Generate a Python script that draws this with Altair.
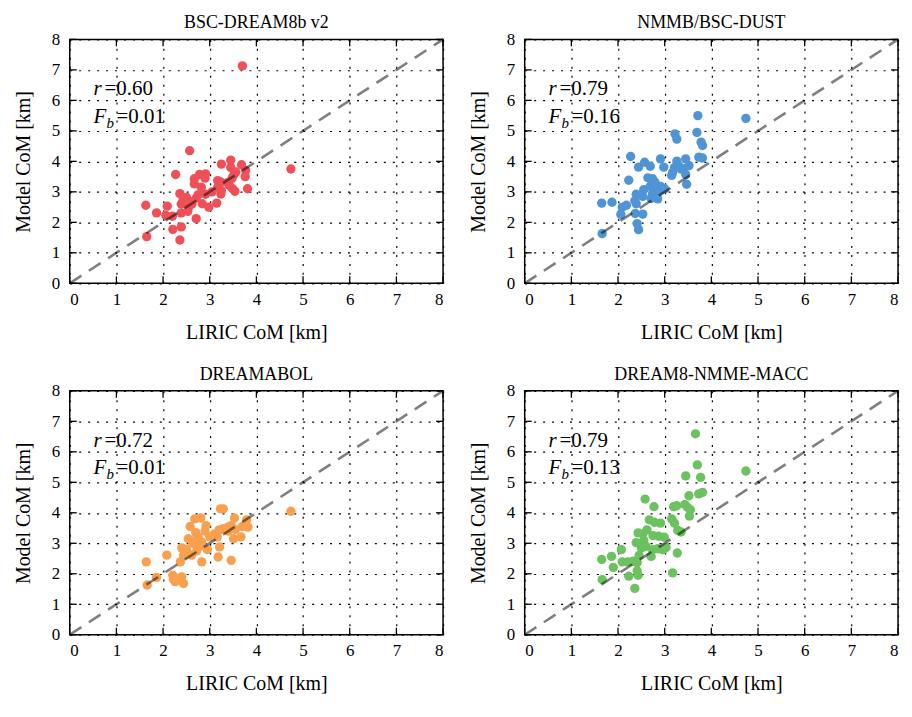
import altair as alt
import pandas as pd

titles = ["BSC-DREAM8b v2", "NMMB/BSC-DUST", "DREAMABOL", "DREAM8-NMME-MACC"]
colors = ["#ef5058", "#4f95d5", "#f9a04e", "#6cc160"]
r_vals = ["0.60", "0.79", "0.72", "0.79"]
fb_vals = ["0.01", "0.16", "0.01", "0.13"]
tick_vals = [0, 1, 2, 3, 4, 5, 6, 7, 8]
diag = [0, 8]

x1 = [3.70, 2.57, 4.74, 2.27, 3.25, 3.45, 3.45, 3.68, 3.77, 3.76, 3.52, 3.48, 2.67, 2.78, 2.91,
      2.67, 2.82, 2.91, 3.17, 3.24, 3.17, 3.25, 3.24, 3.42, 3.49, 3.54, 3.81, 3.15, 2.98, 2.84,
      2.71, 2.60, 2.36, 2.43, 2.50, 2.62, 2.39, 1.63, 1.86, 2.09, 2.06, 2.20, 2.39, 2.71, 2.39,
      2.21, 1.65, 2.36, 2.53, 2.90, 3.05, 2.75, 3.38, 3.56, 2.55]
y1 = [7.13, 4.35, 3.75, 3.57, 3.91, 4.04, 3.80, 3.89, 3.70, 3.50, 3.57, 3.45, 3.43, 3.57, 3.59,
      3.26, 3.15, 2.92, 3.37, 3.32, 3.15, 3.04, 2.93, 3.21, 3.10, 3.02, 3.10, 2.63, 2.50, 2.61,
      2.80, 2.68, 2.94, 2.73, 2.82, 2.60, 2.60, 2.56, 2.31, 2.53, 2.23, 2.20, 2.31, 2.12, 1.85,
      1.77, 1.53, 1.42, 2.36, 3.45, 3.00, 2.90, 3.30, 3.65, 2.50]

x2 = [4.74, 3.71, 3.69, 3.22, 3.26, 3.78, 3.81, 3.73, 3.81, 2.27, 2.57, 2.69, 2.44, 2.91, 2.98,
      3.26, 3.45, 3.52, 3.21, 3.35, 3.15, 3.17, 3.42, 3.45, 3.47, 2.23, 2.64, 2.74, 2.79, 2.69,
      2.78, 2.91, 2.91, 2.55, 2.39, 2.53, 2.74, 2.82, 2.71, 2.85, 2.39, 2.36, 2.18, 2.09, 1.65,
      1.87, 2.06, 2.37, 2.53, 2.41, 2.44, 1.66, 3.00, 3.30]
y2 = [5.41, 5.50, 4.95, 4.90, 4.73, 4.63, 4.52, 4.14, 4.11, 4.16, 3.97, 3.84, 3.81, 4.08, 3.81,
      4.01, 4.08, 3.86, 3.80, 3.75, 3.54, 3.64, 3.76, 3.57, 3.25, 3.38, 3.46, 3.43, 3.32, 3.18,
      3.16, 3.18, 3.05, 3.07, 2.92, 2.85, 2.94, 2.81, 2.78, 2.77, 2.61, 2.71, 2.56, 2.50, 2.63,
      2.66, 2.26, 2.29, 2.27, 1.96, 1.76, 1.63, 3.10, 3.85]

x3 = [4.74, 3.23, 3.29, 2.68, 2.81, 3.53, 3.79, 3.82, 2.58, 2.92, 3.20, 3.29, 3.39, 3.46, 3.40,
      3.55, 3.70, 3.16, 3.51, 3.67, 2.54, 2.68, 2.75, 2.83, 3.00, 2.95, 3.21, 2.40, 2.64, 2.80,
      2.70, 2.61, 2.83, 3.18, 3.46, 2.08, 2.37, 2.44, 2.50, 1.64, 1.86, 2.21, 2.26, 2.40, 2.44,
      2.22, 1.66, 2.90, 3.10, 2.72]
y3 = [4.05, 4.13, 4.13, 3.80, 3.83, 3.83, 3.77, 3.53, 3.55, 3.58, 3.44, 3.48, 3.53, 3.58, 3.40,
      3.45, 3.55, 3.21, 3.15, 3.21, 3.15, 3.09, 3.21, 3.04, 3.21, 2.79, 2.88, 2.85, 3.00, 2.90,
      3.35, 2.61, 2.39, 2.55, 2.44, 2.61, 2.39, 2.61, 2.80, 2.39, 1.88, 1.95, 1.74, 1.90, 1.68,
      1.82, 1.63, 3.40, 3.30, 2.75]

x4 = [3.66, 3.70, 4.74, 3.45, 3.77, 3.73, 3.81, 3.52, 2.58, 2.77, 3.19, 3.26, 3.43, 3.49, 3.55,
      3.53, 3.15, 3.21, 2.67, 2.78, 2.91, 3.28, 3.35, 2.43, 2.53, 2.62, 2.87, 2.99, 2.75, 2.39,
      2.55, 2.60, 2.74, 2.85, 2.96, 3.03, 2.71, 3.27, 2.07, 1.86, 1.65, 1.90, 2.09, 2.21, 2.32,
      2.41, 2.41, 2.23, 2.43, 1.66, 2.36, 3.17, 2.45, 2.50]
y4 = [6.59, 5.57, 5.37, 5.21, 5.16, 4.62, 4.67, 4.56, 4.45, 4.20, 4.20, 4.23, 4.27, 4.18, 4.10,
      3.89, 3.80, 3.66, 3.77, 3.69, 3.66, 3.42, 3.37, 3.34, 3.31, 3.44, 3.23, 3.20, 3.25, 3.02,
      3.10, 2.90, 2.79, 2.82, 2.79, 2.86, 2.57, 2.68, 2.79, 2.57, 2.47, 2.21, 2.39, 2.39, 2.41,
      2.36, 2.10, 1.92, 1.95, 1.81, 1.52, 2.03, 2.60, 2.85]

W, H = 375, 245
FONT = "Liberation Serif"


def panel(i, xs, ys):
    xscale = alt.Scale(domain=[0, 8], nice=False, zero=False)
    yscale = alt.Scale(domain=[0, 8], nice=False, zero=False)
    xax = alt.Axis(values=tick_vals, title="LIRIC CoM [km]", format="d",
                   labelPadding=8, titlePadding=15)
    yax = alt.Axis(values=tick_vals, title="Model CoM [km]", format="d",
                   labelPadding=10, titlePadding=18)
    X = alt.X("x:Q", scale=xscale, axis=xax)
    Y = alt.Y("y:Q", scale=yscale, axis=yax)

    pts = alt.Chart(pd.DataFrame({"x": xs, "y": ys})).mark_circle(
        size=88, opacity=1, color=colors[i]).encode(x=X, y=Y)
    line = alt.Chart(pd.DataFrame({"x": diag, "y": diag})).mark_line(
        color="black", opacity=0.5, strokeWidth=2.6, strokeDash=[14, 9]).encode(x=X, y=Y)

    tdf = pd.DataFrame({"x": tick_vals, "y": tick_vals})
    rule = dict(color="black", strokeWidth=1.3)
    tb = alt.Chart(tdf).mark_rule(**rule).encode(x=X, y=alt.value(H), y2=alt.value(H - 7))
    tt = alt.Chart(tdf).mark_rule(**rule).encode(x=X, y=alt.value(0), y2=alt.value(7))
    tl = alt.Chart(tdf).mark_rule(**rule).encode(y=Y, x=alt.value(0), x2=alt.value(7))
    tr = alt.Chart(tdf).mark_rule(**rule).encode(y=Y, x=alt.value(W), x2=alt.value(W - 7))

    tx = pd.DataFrame({"r": [r_vals[i]], "fb": [fb_vals[i]]})
    fs = 21
    txt = dict(font=FONT, fontSize=fs, align="left", baseline="alphabetic", color="black")
    r_it = alt.Chart(tx).mark_text(text="r", fontStyle="italic", **txt).encode(
        x=alt.value(24), y=alt.value(56))
    r_eq = alt.Chart(tx).transform_calculate(t="'=' + datum.r").mark_text(**txt).encode(
        x=alt.value(35), y=alt.value(56), text="t:N")
    f_it = alt.Chart(tx).mark_text(text="F", fontStyle="italic", **txt).encode(
        x=alt.value(24), y=alt.value(84))
    b_it = alt.Chart(tx).mark_text(text="b", font=FONT, fontStyle="italic", fontSize=15,
                                   align="left", baseline="alphabetic", color="black").encode(
        x=alt.value(37), y=alt.value(89))
    f_eq = alt.Chart(tx).transform_calculate(t="'=' + datum.fb").mark_text(**txt).encode(
        x=alt.value(47), y=alt.value(84), text="t:N")

    return alt.layer(pts, line, tb, tt, tl, tr, r_it, r_eq, f_it, b_it, f_eq).properties(
        width=W, height=H, title=titles[i])


p1 = panel(0, x1, y1)
p2 = panel(1, x2, y2)
p3 = panel(2, x3, y3)
p4 = panel(3, x4, y4)

chart = alt.vconcat(
    alt.hconcat(p1, p2, spacing=18),
    alt.hconcat(p3, p4, spacing=18),
    spacing=22,
).properties(padding={"left": 4, "top": 4, "right": 0, "bottom": 0}).configure_view(
    stroke="black", strokeWidth=1.5
).configure_axis(
    labelFont=FONT, labelFontSize=17, labelColor="black",
    titleFont=FONT, titleFontSize=20, titleFontWeight="normal", titleColor="black",
    grid=True, gridColor="black", gridDash=[2, 7], gridWidth=1.2, gridOpacity=1,
    domain=False, ticks=False,
).configure_title(
    font=FONT, fontSize=18, fontWeight="normal", color="black", anchor="middle", offset=-2
)

chart.save("out.html", embed_options={"renderer": "svg", "actions": False})
